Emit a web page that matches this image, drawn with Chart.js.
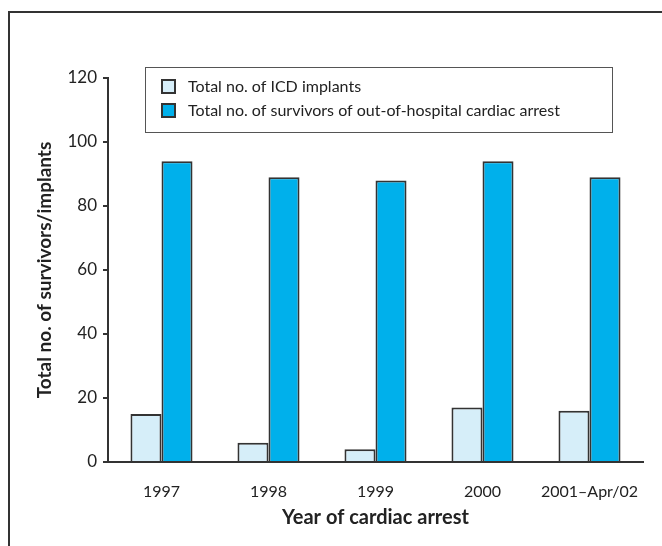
<!DOCTYPE html>
<html>
<head>
<meta charset="utf-8">
<script src="https://cdn.jsdelivr.net/npm/chart.js@4"></script>
<style>
    html, body { margin: 0; padding: 0; background: #fff; }
    #wrap { position: relative; width: 662px; height: 546px; overflow: hidden; }
    #frame { position: absolute; left: 8px; top: 11px; width: 700px; height: 600px;
             border-top: 2px solid #333; border-left: 2px solid #333; }
    canvas { position: absolute; left: 0; top: 0; }
</style>
</head>
<body>
<div id="wrap">
    <div id="frame"></div>
    <canvas id="chart" width="662" height="546"></canvas>
</div>
<script>
const years = ['1997', '1998', '1999', '2000', '2001\u2013Apr/02'];
const icdImplants = [15, 6, 4, 17, 16];
const survivors = [94, 89, 88, 94, 89];
const yTicks = [0, 20, 40, 60, 80, 100, 120];

const FONT = 'Lato, "Open Sans", sans-serif';

// légende encadrée, dessinée à la main dans la zone du graphique
const boxedLegend = {
    id: 'boxedLegend',
    afterDraw(chart) {
        const ctx = chart.ctx;
        ctx.save();
        ctx.strokeStyle = '#555';
        ctx.lineWidth = 1;
        ctx.strokeRect(145.5, 67.5, 467, 65);
        ctx.font = '16px ' + FONT;
        ctx.textBaseline = 'middle';
        chart.data.datasets.forEach((ds, i) => {
            const y = 87 + i * 24;
            ctx.fillStyle = ds.backgroundColor;
            ctx.fillRect(162, y - 7, 13, 13);
            ctx.strokeStyle = '#333';
            ctx.lineWidth = 2;
            ctx.strokeRect(162, y - 7, 13, 13);
            ctx.fillStyle = '#222';
            ctx.fillText(ds.label, 188, y);
        });
        ctx.restore();
    }
};

new Chart(document.getElementById('chart'), {
    type: 'bar',
    data: {
        labels: years,
        datasets: [{
            label: 'Total no. of ICD implants',
            data: icdImplants,
            backgroundColor: '#d6eef9',
            borderColor: '#333',
            borderWidth: 2
        }, {
            label: 'Total no. of survivors of out-of-hospital cardiac arrest',
            data: survivors,
            backgroundColor: '#00b0eb',
            borderColor: '#333',
            borderWidth: 2
        }]
    },
    options: {
        responsive: false,
        animation: false,
        layout: { padding: { top: 78, right: 19, left: 0, bottom: 0 } },
        plugins: {
            legend: { display: false },
            tooltip: { enabled: false }
        },
        datasets: {
            bar: { barPercentage: 1, categoryPercentage: 0.58 }
        },
        scales: {
            x: {
                grid: { display: false, drawTicks: false },
                border: { display: true, color: '#333', width: 2 },
                ticks: { color: '#222', font: { family: FONT, size: 16 }, padding: 20, maxRotation: 0 },
                title: {
                    display: true,
                    text: 'Year of cardiac arrest',
                    color: '#222',
                    font: { family: FONT, size: 20, weight: 'bold' },
                    padding: { top: 0, bottom: 16 }
                },
                afterFit(scale) { scale.height = 84; }
            },
            y: {
                min: 0,
                max: 120,
                afterBuildTicks(scale) { scale.ticks = yTicks.map(v => ({ value: v })); },
                grid: { drawOnChartArea: false, tickLength: 5, color: '#333', lineWidth: 2 },
                border: { display: true, color: '#333', width: 2 },
                ticks: { color: '#222', font: { family: FONT, size: 17 }, padding: 6 },
                title: {
                    display: true,
                    text: 'Total no. of survivors/implants',
                    color: '#222',
                    font: { family: FONT, size: 19, weight: 'bold' },
                    padding: { top: 33, bottom: 0 }
                },
                afterFit(scale) { scale.width = 108; }
            }
        }
    },
    plugins: [boxedLegend]
});
</script>
</body>
</html>
